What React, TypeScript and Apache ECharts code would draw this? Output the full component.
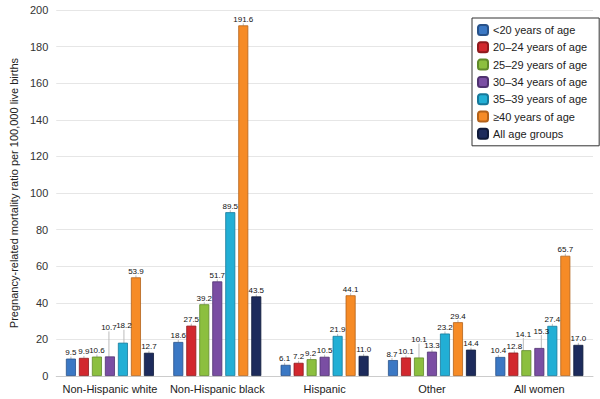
import React, { useEffect, useRef } from "react";
import * as echarts from "echarts";

const categories = ["Non-Hispanic white", "Non-Hispanic black", "Hispanic", "Other", "All women"];
const seriesNames = [
  "<20 years of age",
  "20–24 years of age",
  "25–29 years of age",
  "30–34 years of age",
  "35–39 years of age",
  "≥40 years of age",
  "All age groups",
];
const under20 = [9.5, 18.6, 6.1, 8.7, 10.4];
const age20to24 = [9.9, 27.5, 7.2, 10.1, 12.8];
const age25to29 = [10.6, 39.2, 9.2, 10.1, 14.1];
const age30to34 = [10.7, 51.7, 10.5, 13.3, 15.3];
const age35to39 = [18.2, 89.5, 21.9, 23.2, 27.4];
const age40plus = [53.9, 191.6, 44.1, 29.4, 65.7];
const allAges = [12.7, 43.5, 11.0, 14.4, 17.0];
const yTicks = [0, 20, 40, 60, 80, 100, 120, 140, 160, 180, 200];

const colors = ["#3b78c4", "#d2282e", "#8cbf3f", "#7a4ea3", "#22afd5", "#f68b26", "#1d2b5c"];
const borders = ["#28528a", "#8e1a1e", "#5f8a2a", "#4f3270", "#17789a", "#b3621a", "#0f1a3a"];

// label nudges (px) for crowded labels: key "series-dataIndex"
const labelNudge: Record<string, { dx?: number; dy?: number }> = {
  "3-0": { dx: -1, dy: -23 },
  "4-0": { dx: 1, dy: -11 },
  "0-2": { dx: -1 },
  "2-2": { dx: -1 },
  "0-3": { dx: -1 },
  "2-3": { dy: -12 },
  "0-4": { dx: -2 },
  "1-4": { dx: 1 },
  "2-4": { dx: -3, dy: -10 },
  "3-4": { dx: 2, dy: -11 },
};

export default function App() {
  const ref = useRef<HTMLDivElement>(null);
  useEffect(() => {
    if (!ref.current) return;
    const chart = echarts.init(ref.current, null, { renderer: "svg" });
    const dataSets = [under20, age20to24, age25to29, age30to34, age35to39, age40plus, allAges];
    chart.setOption({
      animation: false,
      textStyle: { fontFamily: "Arial, 'Liberation Sans', sans-serif" },
      grid: { left: 50, right: 7, top: 10, bottom: 23 },
      legend: {
        orient: "vertical",
        left: 472,
        top: 18,
        width: 122,
        itemWidth: 10,
        itemHeight: 10,
        itemGap: 5.3,
        padding: [6, 12, 6, 5],
        borderColor: "#333",
        borderWidth: 1,
        backgroundColor: "#fff",
        textStyle: { fontSize: 11, color: "#222" },
        data: seriesNames,
      },
      xAxis: {
        type: "category",
        data: categories,
        axisTick: { show: false },
        axisLine: { lineStyle: { color: "#ccc" } },
        axisLabel: { fontSize: 11, color: "#222", margin: 7, interval: 0 },
      },
      yAxis: {
        type: "value",
        min: 0,
        max: 200,
        interval: 20,
        name: "Pregnancy-related mortality ratio per 100,000 live births",
        nameLocation: "middle",
        nameGap: 36,
        nameTextStyle: { fontSize: 11, color: "#222" },
        axisLine: { show: false },
        axisTick: { show: false },
        splitLine: { lineStyle: { color: "#e6e6e6" } },
        axisLabel: {
          fontSize: 11,
          color: "#333",
          margin: 8,
          formatter: (v: number) => (yTicks.includes(v) ? String(v) : ""),
        },
      },
      series: dataSets.map((d, si) => ({
        name: seriesNames[si],
        type: "bar",
        data: d,
        barWidth: 10,
        barGap: "30%",
        itemStyle: { color: colors[si], borderColor: borders[si], borderWidth: 0.8 },
        label: {
          show: true,
          position: "top",
          distance: 2,
          fontSize: 8,
          color: "#111",
          formatter: (p: any) => Number(p.value).toFixed(1),
        },
        labelLine: { show: true, lineStyle: { color: "#bbb", width: 1 } },
        labelLayout: (p: any) => labelNudge[`${si}-${p.dataIndex}`] || {},
      })),
    });
    return () => chart.dispose();
  }, []);
  return <div ref={ref} style={{ width: 600, height: 399, position: "absolute", left: 0, top: 0 }} />;
}
